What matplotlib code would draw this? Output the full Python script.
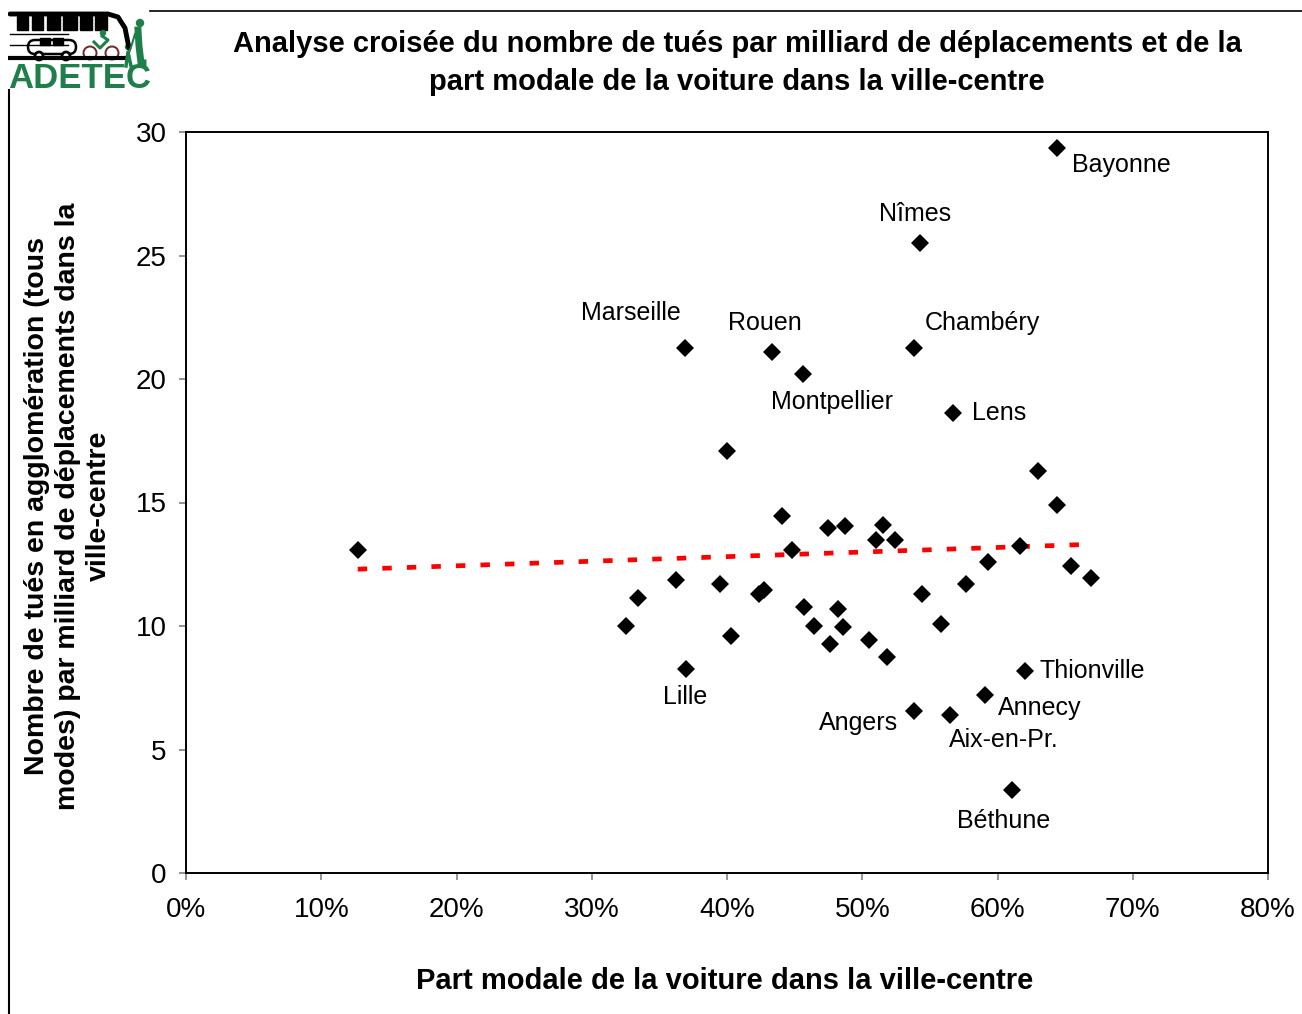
import matplotlib
matplotlib.use("Agg")
import matplotlib.pyplot as plt
import numpy as np
from matplotlib.lines import Line2D
from matplotlib.patches import FancyBboxPatch, Rectangle, Circle
from matplotlib.ticker import FuncFormatter, MultipleLocator

plt.rcParams["font.family"] = ["Liberation Sans", "DejaVu Sans"]

# Part modale de la voiture dans la ville-centre (%), tués par milliard de déplacements
part_voiture = [
    12.7, 32.5, 33.4, 36.2, 37.0, 36.9, 39.5, 40.0, 40.3, 42.4, 42.7,
    43.3, 44.1, 44.8, 45.6, 45.7, 46.4, 47.5, 47.6, 48.2, 48.7, 48.6,
    50.5, 51.0, 51.5, 51.8, 52.4, 53.8, 53.8, 54.3, 54.4, 55.8, 56.5,
    56.7, 57.7, 59.1, 59.3, 61.1, 61.7, 62.0, 63.0, 64.4, 64.4, 65.4, 66.9,
]
tues = [
    13.08, 10.0, 11.13, 11.86, 8.26, 21.26, 11.7, 17.09, 9.6, 11.3, 11.46,
    21.09, 14.45, 13.08, 20.2, 10.77, 10.0, 13.97, 9.27, 10.69, 14.05, 9.96,
    9.43, 13.48, 14.09, 8.74, 13.48, 6.56, 21.26, 25.5, 11.3, 10.08, 6.4,
    18.62, 11.7, 7.2, 12.59, 3.36, 13.24, 8.18, 16.28, 14.9, 29.35, 12.43, 11.94,
]
villes = [
    "", "", "", "", "Lille", "Marseille", "", "", "", "", "",
    "Rouen", "", "", "Montpellier", "", "", "", "", "", "", "",
    "", "", "", "", "", "Angers", "Chambéry", "Nîmes", "", "", "Aix-en-Pr.",
    "Lens", "", "Annecy", "", "Béthune", "", "Thionville", "", "", "Bayonne", "", "",
]

# label placement: offset in points from the marker, horizontal alignment
label_pos = {
    "Bayonne": ((11, -12), "left"),
    "Nîmes": ((-4, 21), "center"),
    "Marseille": ((-39, 25), "center"),
    "Rouen": ((-5, 21), "center"),
    "Chambéry": ((8, 18), "left"),
    "Montpellier": ((21, -20), "center"),
    "Lens": ((14, 0), "left"),
    "Lille": ((-1, -20), "center"),
    "Thionville": ((11, 0), "left"),
    "Annecy": ((9, -9), "left"),
    "Angers": ((-11, -9), "right"),
    "Aix-en-Pr.": ((-1, -18), "left"),
    "Béthune": ((-6, -22), "center"),
}

W, H = 1302, 1014
fig = plt.figure(figsize=(W / 100, H / 100), dpi=100)


def fx(px):
    return px / W


def fy(py):
    return 1 - py / H


ax = fig.add_axes([fx(186), fy(873), fx(1268) - fx(186), fy(132) - fy(873)])

x = np.array(part_voiture)
y = np.array(tues)
ax.plot(x, y, "D", color="black", markersize=9, markeredgewidth=0, zorder=3)

# tendance linéaire
a, b = np.polyfit(x, y, 1)
xt = np.array([x.min(), x.max()])
ax.plot(xt, a * xt + b, color="#ff0000", linewidth=3.4, dashes=(2.0, 3.2), zorder=2)

for xi, yi, nom in zip(x, y, villes):
    if not nom:
        continue
    off, ha = label_pos[nom]
    ax.annotate(nom, (xi, yi), xytext=off, textcoords="offset points",
                ha=ha, va="center", fontsize=18, color="black")

ax.set_xlim(0, 80)
ax.set_ylim(0, 30)
ax.xaxis.set_major_locator(MultipleLocator(10))
ax.yaxis.set_major_locator(MultipleLocator(5))
ax.xaxis.set_major_formatter(FuncFormatter(lambda v, p: f"{v:.0f}%"))
ax.tick_params(axis="both", direction="out", length=5, width=1.2, color="#808080",
               labelsize=20)
ax.tick_params(axis="x", pad=12)
ax.tick_params(axis="y", pad=9)
for s in ax.spines.values():
    s.set_linewidth(1.4)
    s.set_color("black")

fig.text(fx(737), fy(63),
         "Analyse croisée du nombre de tués par milliard de déplacements et de la\n"
         "part modale de la voiture dans la ville-centre",
         ha="center", va="center", fontsize=21, fontweight="bold", linespacing=1.45)

fig.text(fx(68), fy(506),
         "Nombre de tués en agglomération (tous\n"
         "modes) par milliard de déplacements dans la\n"
         "ville-centre",
         ha="center", va="center", rotation=90, fontsize=20.5, fontweight="bold",
         linespacing=1.24, multialignment="center")

fig.text(fx(725), fy(981), "Part modale de la voiture dans la ville-centre",
         ha="center", va="center", fontsize=21, fontweight="bold")

# cadre de page
fig.add_artist(Line2D([fx(150), fx(1302)], [fy(11), fy(11)], color="black", linewidth=1.2))
fig.add_artist(Line2D([fx(9), fx(9)], [fy(90), fy(1014)], color="black", linewidth=1.5))

# logo ADETEC
vert = "#1f7f4a"
lg = fig.add_axes([fx(8), fy(92), fx(152) - fx(8), fy(8) - fy(92)])
lg.set_xlim(0, 144)
lg.set_ylim(84, 0)
lg.axis("off")
for x0, w in [(9, 11), (24, 11), (39, 13), (55, 14), (72, 12), (87, 12)]:
    lg.add_patch(Rectangle((x0, 8), w, 14, color="black"))
lg.plot([2, 100, 110, 117, 121], [6, 6, 9, 20, 40], color="black", linewidth=3.5,
        solid_capstyle="round")
lg.plot([2, 60], [26, 26], color="black", linewidth=1)
lg.plot([2, 60], [37, 37], color="black", linewidth=1)
lg.plot([2, 120], [50, 50], color="black", linewidth=3)
lg.add_patch(FancyBboxPatch((20, 32), 48, 14, boxstyle="round,pad=0,rounding_size=7",
                            facecolor="white", edgecolor="black", linewidth=1.8))
lg.add_patch(Rectangle((32, 30), 10, 7, color="black"))
lg.add_patch(Rectangle((45, 30), 10, 7, color="black"))
lg.add_patch(Circle((31, 48), 4, facecolor="white", edgecolor="black", linewidth=2))
lg.add_patch(Circle((58, 48), 4, facecolor="white", edgecolor="black", linewidth=2))
lg.add_patch(Circle((82, 45), 6.5, fill=False, edgecolor="#6b2a22", linewidth=1.4))
lg.add_patch(Circle((104, 45), 6.5, fill=False, edgecolor="#6b2a22", linewidth=1.4))
lg.plot([86, 92, 100, 94], [34, 40, 32, 28], color=vert, linewidth=2.2)
lg.add_patch(Circle((95, 25), 2.5, color=vert))
lg.plot([130, 131, 133, 135], [22, 38, 55, 55], color=vert, linewidth=5)
lg.plot([127, 124, 120], [26, 36, 48], color=vert, linewidth=1.5)
lg.add_patch(Circle((132, 15), 3.5, color=vert))
lg.plot([118, 120, 123], [58, 44, 58], color=vert, linewidth=2.5)
lg.add_patch(Circle((120, 39), 2.5, color=vert))
lg.text(72, 70, "ADETEC", ha="center", va="center", fontsize=25, fontweight="bold",
        color=vert)

fig.savefig("out.png", dpi=100)
